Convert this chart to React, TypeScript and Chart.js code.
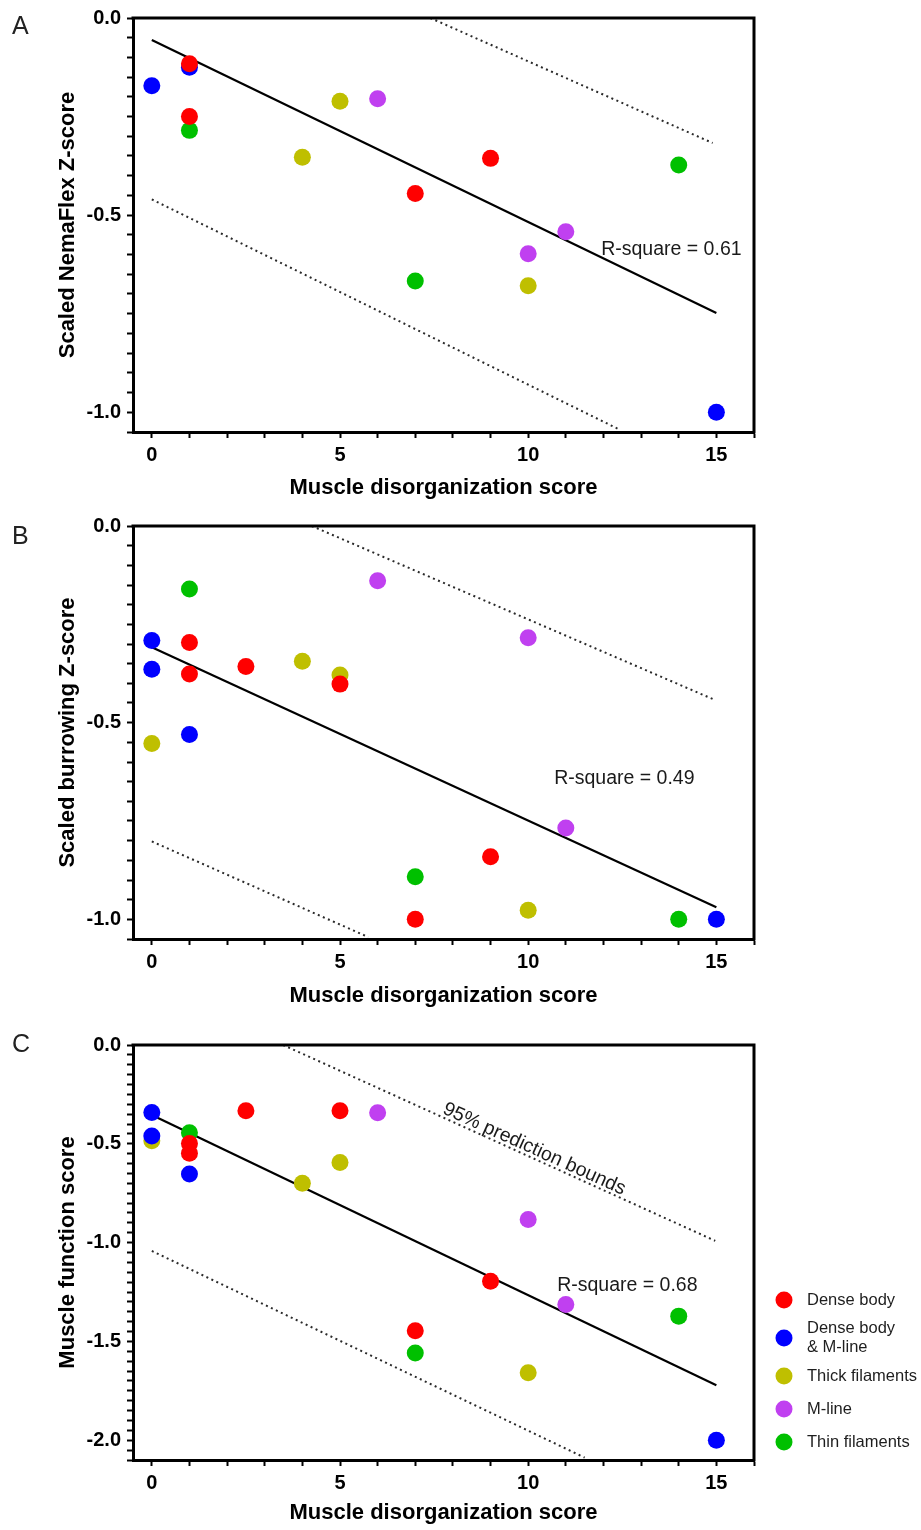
import React, { useEffect, useRef } from 'react';
import { Chart, registerables } from 'chart.js';

Chart.register(...registerables);

// ---------- shared data ----------
const categories = ['Dense body', 'Dense body\n& M-line', 'Thick filaments', 'M-line', 'Thin filaments'];
const categoryColors = ['#FF0000', '#0000FF', '#BFBF00', '#C040F0', '#00C000'];
const xTickLabels = [0, 5, 10, 15];
const xAxisTitle = 'Muscle disorganization score';

// ---------- Panel A: NemaFlex ----------
const nemaDenseBody = [[1, -0.116], [1, -0.25], [7, -0.445], [9, -0.356]];
const nemaDenseBodyMLine = [[0, -0.172], [1, -0.125], [15, -1.0]];
const nemaThick = [[4, -0.353], [5, -0.211], [10, -0.679]];
const nemaMLine = [[6, -0.205], [10, -0.598], [11, -0.542]];
const nemaThin = [[1, -0.285], [7, -0.667], [14, -0.373]];
const nemaFit = [[0, -0.056], [15, -0.748]];
const nemaUpper = [[7.4, 0.0], [14.9, -0.317]];
const nemaLower = [[0, -0.46], [12.45, -1.045]];
const nemaYTickLabels = [0, -0.5, -1.0];

// ---------- Panel B: burrowing ----------
const burDenseBody = [[1, -0.296], [1, -0.376], [2.5, -0.357], [5, -0.402], [7, -1.0], [9, -0.841]];
const burDenseBodyMLine = [[0, -0.291], [0, -0.364], [1, -0.53], [15, -1.0]];
const burThick = [[0, -0.553], [4, -0.344], [5, -0.379], [10, -0.977]];
const burMLine = [[6, -0.139], [10, -0.284], [11, -0.768]];
const burThin = [[1, -0.16], [7, -0.892], [14, -1.0]];
const burFit = [[0, -0.308], [15, -0.969]];
const burUpper = [[4.25, 0.0], [14.93, -0.441]];
const burLower = [[0, -0.802], [5.75, -1.045]];
const burYTickLabels = [0, -0.5, -1.0];

// ---------- Panel C: muscle function ----------
const mfDenseBody = [[1, -0.498], [1, -0.548], [2.5, -0.333], [5, -0.333], [7, -1.446], [9, -1.195]];
const mfDenseBodyMLine = [[0, -0.341], [0, -0.461], [1, -0.653], [15, -2.0]];
const mfThick = [[0, -0.484], [4, -0.7], [5, -0.594], [10, -1.659]];
const mfMLine = [[6, -0.343], [10, -0.883], [11, -1.313]];
const mfThin = [[1, -0.444], [7, -1.558], [14, -1.372]];
const mfFit = [[0, -0.354], [15, -1.722]];
const mfUpper = [[3.49, 0.0], [14.97, -0.991]];
const mfLower = [[0, -1.042], [11.5, -2.088]];
const mfYTickLabels = [0, -0.5, -1.0, -1.5, -2.0];

const FONT = '"Liberation Sans", Arial, Helvetica, sans-serif';

const panels = [
  {
    letter: 'A', top: 0, height: 508, padTop: 17, padBottom: 3, xAxisHeight: 73,
    yMin: -1.05, yTitle: 'Scaled NemaFlex Z-score', yTickLabels: nemaYTickLabels,
    series: [nemaDenseBody, nemaDenseBodyMLine, nemaThick, nemaMLine, nemaThin],
    fit: nemaFit, upper: nemaUpper, lower: nemaLower,
    rText: 'R-square = 0.61', rPos: [11.94, -0.588],
    boundsText: null, legend: false, letterBaseline: 34,
  },
  {
    letter: 'B', top: 508, height: 508, padTop: 17, padBottom: 3, xAxisHeight: 74,
    yMin: -1.05, yTitle: 'Scaled burrowing Z-score', yTickLabels: burYTickLabels,
    series: [burDenseBody, burDenseBodyMLine, burThick, burMLine, burThin],
    fit: burFit, upper: burUpper, lower: burLower,
    rText: 'R-square = 0.49', rPos: [10.69, -0.642],
    boundsText: null, legend: false, letterBaseline: 36,
  },
  {
    letter: 'C', top: 1016, height: 514, padTop: 29, padBottom: 0, xAxisHeight: 70,
    yMin: -2.1, yTitle: 'Muscle function score', yTickLabels: mfYTickLabels,
    series: [mfDenseBody, mfDenseBodyMLine, mfThick, mfMLine, mfThin],
    fit: mfFit, upper: mfUpper, lower: mfLower,
    rText: 'R-square = 0.68', rPos: [10.77, -1.22],
    boundsText: '95% prediction bounds', boundsPos: [10.16, -0.527], legend: true, letterBaseline: 36,
  },
];

const toXY = (pts) => pts.map(([x, y]) => ({ x, y }));

const overlayPlugin = {
  id: 'overlay',
  afterDraw(chart) {
    const p = chart.options.plugins.overlay.panel;
    const { ctx, chartArea: a, scales } = chart;
    const xs = scales.x;
    const ys = scales.y;
    ctx.save();
    // frame (top + right)
    ctx.strokeStyle = '#000';
    ctx.lineWidth = 3;
    ctx.lineCap = 'square';
    ctx.beginPath();
    ctx.moveTo(a.left, a.top);
    ctx.lineTo(a.right, a.top);
    ctx.lineTo(a.right, a.bottom);
    ctx.stroke();

    // panel letter
    ctx.fillStyle = '#222';
    ctx.font = `25px ${FONT}`;
    ctx.textAlign = 'left';
    ctx.textBaseline = 'alphabetic';
    ctx.fillText(p.letter, 12, p.letterBaseline);

    // R-square
    ctx.fillStyle = '#1a1a1a';
    ctx.font = `19.5px ${FONT}`;
    ctx.textBaseline = 'middle';
    ctx.fillText(p.rText, xs.getPixelForValue(p.rPos[0]), ys.getPixelForValue(p.rPos[1]));

    // prediction bounds label
    if (p.boundsText) {
      const x0 = xs.getPixelForValue(p.upper[0][0]);
      const y0 = ys.getPixelForValue(p.upper[0][1]);
      const x1 = xs.getPixelForValue(p.upper[1][0]);
      const y1 = ys.getPixelForValue(p.upper[1][1]);
      const ang = Math.atan2(y1 - y0, x1 - x0);
      ctx.save();
      ctx.translate(xs.getPixelForValue(p.boundsPos[0]), ys.getPixelForValue(p.boundsPos[1]));
      ctx.rotate(ang);
      ctx.textAlign = 'center';
      ctx.font = `19.5px ${FONT}`;
      ctx.fillText(p.boundsText, 0, 0);
      ctx.restore();
    }

    // legend
    if (p.legend) {
      let cursor = 267.5;
      ctx.font = `16.5px ${FONT}`;
      ctx.textAlign = 'left';
      ctx.textBaseline = 'middle';
      categories.forEach((label, i) => {
        const lines = label.split('\n');
        const h = lines.length === 1 ? 33 : 43;
        const cy = cursor + h / 2;
        ctx.fillStyle = categoryColors[i];
        ctx.beginPath();
        ctx.arc(784, cy, 8.5, 0, Math.PI * 2);
        ctx.fill();
        ctx.fillStyle = '#1e1e1e';
        lines.forEach((ln, j) => {
          ctx.fillText(ln, 807, cy + (j - (lines.length - 1) / 2) * 19);
        });
        cursor += h;
      });
    }
    ctx.restore();
  },
};

function buildConfig(p) {
  const pointSets = p.series.map((pts, i) => ({
    label: categories[i],
    data: toXY(pts),
    backgroundColor: categoryColors[i],
    borderColor: categoryColors[i],
    borderWidth: 0,
    pointRadius: 8.5,
    showLine: false,
  }));
  const lineSet = (pts, dashed) => ({
    label: dashed ? 'bound' : 'fit',
    data: toXY(pts),
    showLine: true,
    pointRadius: 0,
    borderColor: dashed ? '#2a2a2a' : '#000',
    borderWidth: dashed ? 2 : 2.2,
    borderDash: dashed ? [2, 3.5] : [],
    fill: false,
    tension: 0,
  });
  const nY = Math.round(-p.yMin / 0.05);
  const yTicks = [];
  for (let i = 0; i <= nY; i++) yTicks.push(Math.round(-i * 5) / 100);
  const xTicks = [];
  for (let i = 0; i <= 16; i++) xTicks.push(i);

  const tickFont = { family: FONT, size: 20, weight: 'bold' };
  const titleFont = { family: FONT, size: 22, weight: 'bold' };

  return {
    type: 'scatter',
    data: {
      datasets: [...pointSets, lineSet(p.fit, false), lineSet(p.upper, true), lineSet(p.lower, true)],
    },
    options: {
      responsive: false,
      animation: false,
      events: [],
      layout: { padding: { left: 51, right: 167, top: p.padTop, bottom: p.padBottom } },
      plugins: {
        legend: { display: false },
        tooltip: { enabled: false },
        overlay: { panel: p },
      },
      scales: {
        x: {
          type: 'linear',
          position: 'bottom',
          min: -0.5,
          max: 16,
          afterBuildTicks: (axis) => { axis.ticks = xTicks.map((v) => ({ value: v })); },
          afterFit: (axis) => { axis.height = p.xAxisHeight; },
          ticks: {
            autoSkip: false,
            maxRotation: 0,
            padding: 5,
            color: '#000',
            font: tickFont,
            callback: (v) => (xTickLabels.includes(v) ? String(v) : ''),
          },
          grid: { display: true, drawOnChartArea: false, drawTicks: true, tickLength: 6, tickWidth: 2, tickColor: '#000' },
          border: { display: true, color: '#000', width: 3 },
          title: { display: true, text: xAxisTitle, color: '#000', font: titleFont, padding: { top: 4, bottom: 4 } },
        },
        y: {
          type: 'linear',
          position: 'left',
          min: p.yMin,
          max: 0,
          afterBuildTicks: (axis) => { axis.ticks = yTicks.map((v) => ({ value: v })); },
          afterFit: (axis) => { axis.width = 82; },
          ticks: {
            autoSkip: false,
            padding: 6,
            color: '#000',
            font: tickFont,
            callback: (v) => {
              const hit = p.yTickLabels.find((t) => Math.abs(t - v) < 1e-6);
              return hit === undefined ? '' : hit.toFixed(1);
            },
          },
          grid: { display: true, drawOnChartArea: false, drawTicks: true, tickLength: 6, tickWidth: 2, tickColor: '#000' },
          border: { display: true, color: '#000', width: 3 },
          title: { display: true, text: p.yTitle, color: '#000', font: titleFont, padding: { top: 4, bottom: 4 } },
        },
      },
    },
    plugins: [overlayPlugin],
  };
}

function Panel({ p }) {
  const ref = useRef(null);
  useEffect(() => {
    const chart = new Chart(ref.current, buildConfig(p));
    return () => chart.destroy();
  }, [p]);
  return (
    <canvas
      ref={ref}
      width={921}
      height={p.height}
      style={{ position: 'absolute', left: 0, top: p.top, width: 921, height: p.height, display: 'block' }}
    />
  );
}

export default function App() {
  return (
    <div style={{ position: 'absolute', left: 0, top: 0, width: 921, height: 1530, background: '#fff' }}>
      {panels.map((p) => (
        <Panel key={p.letter} p={p} />
      ))}
    </div>
  );
}
